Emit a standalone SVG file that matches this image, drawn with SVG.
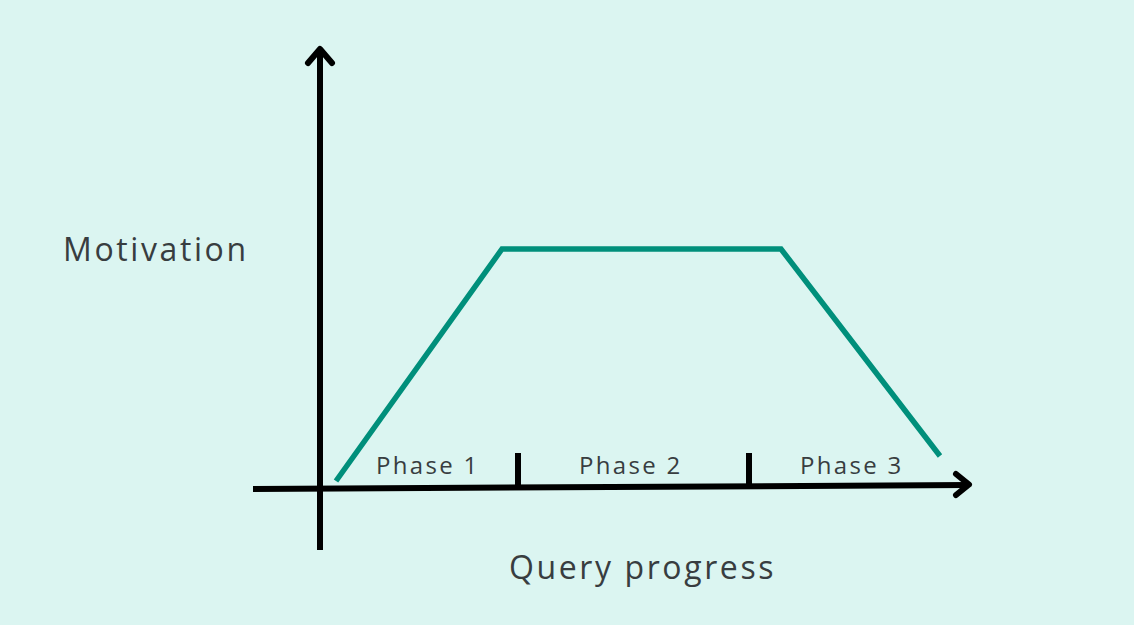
<svg xmlns="http://www.w3.org/2000/svg" width="1134" height="625" viewBox="0 0 1134 625">
<style>
.axis{stroke:#000;stroke-width:6;fill:none;stroke-linecap:butt}
.head{stroke:#000;stroke-width:6;fill:none;stroke-linecap:round;stroke-linejoin:round}
.curve{stroke:#008f7b;stroke-width:5.5;fill:none;stroke-linejoin:miter}
.lbl{font-family:"Open Sans","Noto Sans",sans-serif;fill:#383d40}
.ph{font-size:24px;letter-spacing:2.3px}
.ax{font-size:32px;letter-spacing:2.6px}
</style>
<rect width="1134" height="625" fill="#dbf5f1"/>
<g id="connectors">
<line class="axis" x1="320" y1="550" x2="320" y2="50"/>
<polyline class="head" points="308,63 320,49 332,63"/>
<line class="axis" x1="253" y1="489" x2="968" y2="485"/>
<polyline class="head" points="956,474 969,484.5 956,495"/>
<line class="axis" x1="518" y1="453" x2="518" y2="488"/>
<line class="axis" x1="749" y1="453" x2="749" y2="487"/>
<polyline class="curve" points="336,481 502,249 781,249 940,456"/>
</g>
<g id="motivation"><text class="lbl ax" x="63" y="261">Motivation</text></g>
<g id="query"><text class="lbl ax" x="509" y="579" letter-spacing="2.9">Query progress</text></g>
<g id="phase1"><text class="lbl ph" x="376" y="474">Phase 1</text></g>
<g id="phase2"><text class="lbl ph" x="579" y="474">Phase 2</text></g>
<g id="phase3"><text class="lbl ph" x="800" y="474">Phase 3</text></g>
</svg>
